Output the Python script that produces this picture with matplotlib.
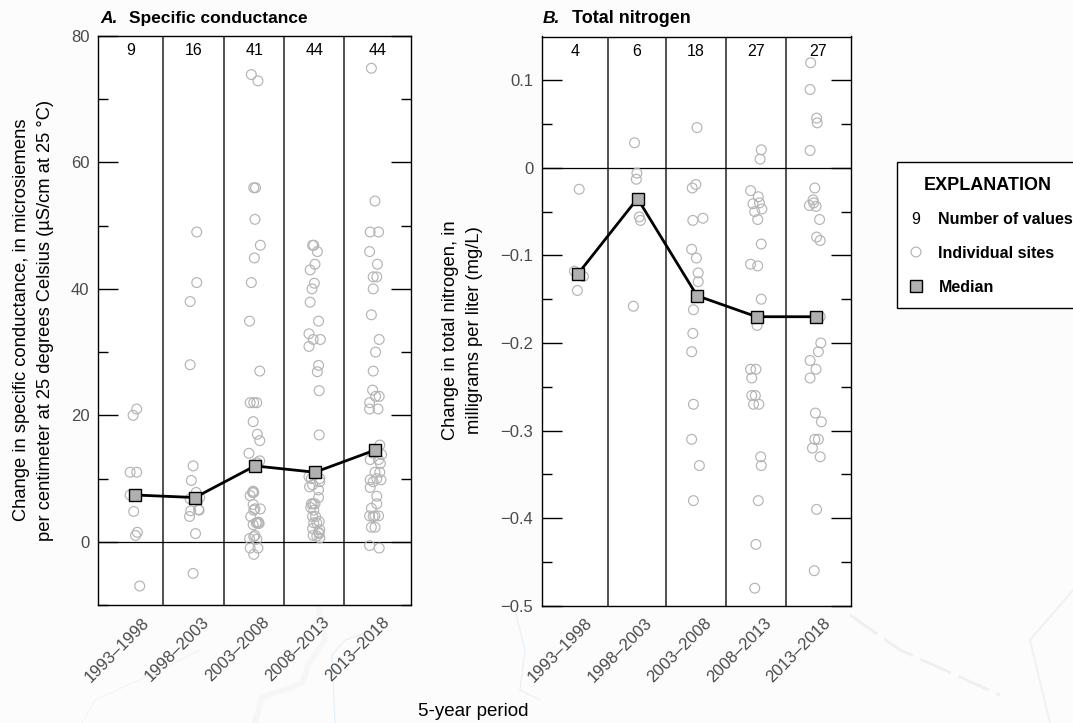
import matplotlib
matplotlib.use('Agg')
import matplotlib.pyplot as plt
from matplotlib.patches import Rectangle
from matplotlib.transforms import ScaledTranslation

plt.rcParams['font.family'] = ['Liberation Sans', 'DejaVu Sans']

periods = ['1993–1998', '1998–2003', '2003–2008', '2008–2013', '2013–2018']

# A. specific conductance
sc_counts = [9, 16, 41, 44, 44]
sc_medians = [7.4, 7.0, 12.0, 11.0, 14.5]
sc_1 = [21, 20, 11, 11, 7.4, 4.8, 1.5, 1, -7]
sc_1_j = [.03, -.03, -.08, .03, -.08, -.02, .04, .01, .08]
sc_2 = [49, 41, 38, 28, 12, 9.7, 7.8, 7, 6.8, 7, 5.1, 5, 4.9, 4, 1.3, -5]
sc_2_j = [.03, .03, -.08, -.08, -.03, -.06, .02, .08, -.08, 0, .06, .07, -.07, -.09, .01, -.03]
sc_3 = [73.9, 72.9, 56, 56, 51, 46.9, 44.9, 41, 34.9, 27, 22, 22, 22, 19, 17, 16, 14, 12.8, 12, 12.5,
        8, 7.8, 7.8, 7.3, 5.9, 5.2, 5.2, 5, 4, 3.1, 3, 3, 2.9, 2.7, 1, .8, .5, .4, -1, -1, -2]
sc_3_j = [-.06, .05, -.02, .01, 0, .09, -.01, -.06, -.09, .08, -.08, -.02, .03, -.03, .04, .08, -.1, .08, 0, .03,
          -.03, -.04, -.02, -.08, -.03, 0, .09, -.02, -.07, .06, .02, .04, .07, -.03, 0, -.02, -.09, .03, -.08, .05, -.02]
sc_4 = [46.9, 46.9, 45.9, 43.9, 43, 40.9, 40, 37.9, 34.9, 32.9, 32, 32, 30.9, 27.9, 26.9, 23.9, 16.9, 11, 11, 10.3,
        10, 10, 9.5, 9, 8.7, 8.2, 7, 6, 6, 6, 5.4, 5, 4, 4, 3.2, 3, 3, 2.1, 1.9, 1.5, 1.3, 1, .9, .6]
sc_4_j = [-.04, -.02, .04, 0, -.08, -.01, -.05, -.08, .06, -.1, -.03, .09, -.1, .06, .04, .07, .07, 0, .03, -.1,
          .08, -.06, .08, -.04, -.09, .06, .06, -.06, 0, -.03, -.07, -.02, -.04, .01, .07, .03, -.02, -.04, .08, .06, .07, -.03, .03, .08]
sc_5 = [74.9, 53.9, 49, 49, 45.9, 43.9, 41.9, 41.9, 40, 35.9, 32, 30, 27, 24, 23, 23, 22, 21, 21, 15.3,
        14.5, 14, 13.8, 13, 13, 12.4, 11, 11, 10, 9.8, 9.8, 9.5, 8.6, 7.2, 6, 5.3, 4.1, 4.1, 4.1, 4, 2.3, 2.3, -.6, -1]
sc_5_j = [-.06, 0, -.08, .06, -.09, .04, -.03, .03, -.03, -.06, .07, .01, -.03, -.04, .01, .07, -.09, -.09, .05, .08,
          0, -.03, .11, -.08, .06, .09, 0, .08, .03, -.08, .1, -.03, -.08, .03, .03, -.06, -.09, 0, .06, -.03, -.06, 0, -.09, .07]
sc_dividers = [.475, 1.483, 2.49, 3.49]

# B. total nitrogen
tn_counts = [4, 6, 18, 27, 27]
tn_medians = [-.121, -.035, -.146, -.17, -.17]
tn_1 = [-.0244, -.118, -.124, -.14]
tn_1_j = [.02, -.06, .09, -.01]
tn_2 = [.0286, -.006, -.013, -.056, -.06, -.158]
tn_2_j = [-.05, -.01, -.02, .03, .05, -.07]
tn_3 = [.046, -.019, -.023, -.0575, -.06, -.093, -.103, -.12, -.13, -.146, -.147, -.162, -.189, -.21, -.27, -.31, -.34, -.38]
tn_3_j = [0, -.02, -.08, .1, -.07, -.09, -.01, .02, .02, 0, 0, -.06, -.07, -.09, -.06, -.09, .04, -.06]
tn_4 = [.0206, .01, -.026, -.033, -.04, -.041, -.047, -.05, -.059, -.087, -.11, -.112, -.15, -.17, -.18,
        -.23, -.23, -.24, -.26, -.26, -.27, -.27, -.33, -.34, -.38, -.43, -.48]
tn_4_j = [.08, .06, -.1, .03, .05, -.06, .09, -.03, .02, .08, -.1, .02, .08, 0, .01,
          -.1, -.01, -.08, -.08, -.02, -.05, .04, .07, .08, .03, -.01, -.03]
tn_5 = [.12, .0895, .0568, .0514, .0198, -.023, -.0366, -.04, -.043, -.044, -.059, -.079, -.083, -.17,
        -.2, -.21, -.22, -.23, -.24, -.28, -.29, -.31, -.31, -.32, -.33, -.39, -.46]
tn_5_j = [-.09, -.1, .01, .02, -.1, -.02, -.05, -.04, -.11, 0, .06, .01, .07, .07,
          .08, .04, -.1, 0, -.1, -.01, .09, -.02, .04, -.06, .07, .01, -.03]
tn_dividers = [.5, 1.474, 2.49, 3.49]

W, H = 1073., 723.
CIRC = '#b4b4b4'
GREY = '#4a4a4a'
fig = plt.figure(figsize=(W / 100, H / 100), dpi=100, facecolor='#fcfcfc')

# faint base map behind the chart
bg = fig.add_axes([0, 0, 1, 1], zorder=-1)
bg.set_xlim(0, W)
bg.set_ylim(H, 0)
bg.axis('off')
bg.plot([255, 262, 290, 303, 308, 325, 318], [723, 697, 688, 682, 665, 640, 605], color='#f6f6f6', lw=4)
bg.plot([850, 900, 1000], [615, 650, 695], color='#efefef', lw=2, ls=(0, (12, 3)))
bg.plot([1073, 1030, 1050], [590, 640, 723], color='#f1f1f1', lw=1.5)
bg.plot([82, 95, 150, 200], [723, 700, 675, 650], color='#eef5fb', lw=0.8)
bg.plot([335, 332, 345, 375], [723, 655, 640, 630], color='#e3f0fa', lw=0.8)
bg.plot([515, 525, 520, 540], [610, 650, 690, 700], color='#e3f0fa', lw=0.8)


def panel(box, sites, jitter, medians, counts, dividers, xlim, ylim, major, minor):
    l, t, r, b = box
    ax = fig.add_axes([l / W, 1 - b / H, (r - l) / W, (b - t) / H])
    for i in range(5):
        ax.scatter([i + j for j in jitter[i]], sites[i], s=50, facecolors='none',
                   edgecolors=CIRC, linewidths=0.85, zorder=3, clip_on=False)
    for d in dividers:
        ax.axvline(d, color='#222222', lw=1.1, zorder=2)
    ax.axhline(0, color='black', lw=0.9, zorder=2)
    ax.plot(range(5), medians, color='black', lw=2.0, marker='s', ms=8.4, mfc='#b0b0b0',
            mec='black', mew=1.0, zorder=4)
    ax.set_xlim(xlim)
    ax.set_ylim(ylim)
    edges = [xlim[0]] + dividers + [xlim[1]]
    for i, n in enumerate(counts):
        ax.text((edges[i] + edges[i + 1]) / 2, 1 - 14.5 / (b - t), str(n), ha='center', va='center',
                fontsize=11.5, transform=ax.get_xaxis_transform())
    ax.set_xticks(range(5))
    ax.set_xticklabels(periods, rotation=45, ha='right', rotation_mode='anchor', fontsize=12, color=GREY)
    ax.tick_params(axis='x', length=0, pad=7)
    shift = ScaledTranslation(5 / 72, 0, fig.dpi_scale_trans)
    for lab in ax.get_xticklabels():
        lab.set_transform(lab.get_transform() + shift)
    ax.set_yticks(major)
    ax.set_yticks(minor, minor=True)
    ax.tick_params(axis='y', which='major', direction='in', left=True, right=True, length=14.2, width=1.0,
                   labelsize=12, pad=6.5, labelcolor=GREY)
    ax.tick_params(axis='y', which='minor', direction='in', left=True, right=True, length=7.2, width=1.0)
    for s in ax.spines.values():
        s.set_linewidth(1.0)
    return ax


ax1 = panel((98.3, 36, 411.3, 605), [sc_1, sc_2, sc_3, sc_4, sc_5], [sc_1_j, sc_2_j, sc_3_j, sc_4_j, sc_5_j],
            sc_medians, sc_counts, sc_dividers, (-.61, 4.605), (-10, 80),
            [0, 20, 40, 60, 80], [-10, 10, 30, 50, 70])
ax1.set_yticklabels(['0', '20', '40', '60', '80'])

ax2 = panel((542.3, 36.5, 851.3, 605.7), [tn_1, tn_2, tn_3, tn_4, tn_5], [tn_1_j, tn_2_j, tn_3_j, tn_4_j, tn_5_j],
            tn_medians, tn_counts, tn_dividers, (-.6, 4.593), (-.5, .15),
            [-.5, -.4, -.3, -.2, -.1, 0, .1], [-.45, -.35, -.25, -.15, -.05, .05])
ax2.set_yticklabels(['−0.5', '−0.4', '−0.3', '−0.2', '−0.1', '0', '0.1'])

# overlay in picture pixels for titles, axis text and the explanation box
ov = fig.add_axes([0, 0, 1, 1], zorder=10)
ov.set_xlim(0, W)
ov.set_ylim(H, 0)
ov.axis('off')

ov.text(100, 18.5, 'A.', fontsize=12.5, fontweight='bold', fontstyle='italic', va='center')
ov.text(129, 18.5, 'Specific conductance', fontsize=12.5, fontweight='bold', va='center')
ov.text(543, 18.5, 'B.', fontsize=12.5, fontweight='bold', fontstyle='italic', va='center')
ov.text(572.5, 18.5, 'Total nitrogen', fontsize=13, fontweight='bold', va='center')

ov.text(33.5, 320, 'Change in specific conductance, in microsiemens\nper centimeter at 25 degrees Celsius (µS/cm at 25 °C)',
        rotation=90, ha='center', va='center', fontsize=13.2, linespacing=1.5)
ov.text(462.5, 330, 'Change in total nitrogen, in\nmilligrams per liter (mg/L)',
        rotation=90, ha='center', va='center', fontsize=13.2, linespacing=1.5)
ov.text(473.5, 712, '5-year period', ha='center', va='center', fontsize=13.5)

ov.add_patch(Rectangle((897, 162), 200, 146, fc='white', ec='black', lw=1.0))
ov.text(988, 185.5, 'EXPLANATION', ha='center', va='center', fontsize=13, fontweight='bold')
ov.text(916, 219, '9', ha='center', va='center', fontsize=11.5)
ov.text(938, 219.5, 'Number of values', va='center', fontsize=11.5, fontweight='bold')
ov.scatter([916], [252], s=50, facecolors='none', edgecolors=CIRC, linewidths=0.85)
ov.text(938, 253.5, 'Individual sites', va='center', fontsize=11.5, fontweight='bold')
ov.plot([916], [286], marker='s', ms=8.4, mfc='#b0b0b0', mec='black', mew=1.0)
ov.text(939, 287.5, 'Median', va='center', fontsize=11.5, fontweight='bold')

fig.savefig('out.png', dpi=100, facecolor=fig.get_facecolor())
plt.close()
